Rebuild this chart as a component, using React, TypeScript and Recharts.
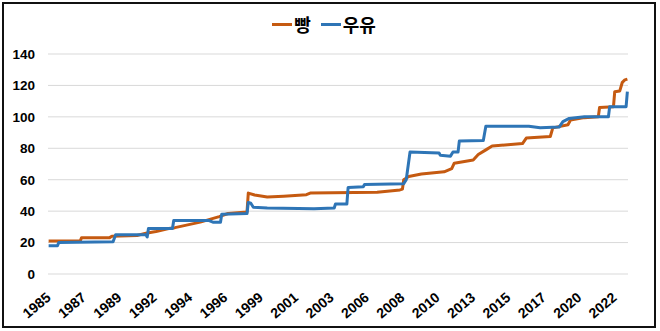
import { LineChart, Line, XAxis, YAxis, CartesianGrid } from "recharts";

// months counted from Jan 1985, [month, index]
const breadPoints: [number, number][] = [
  [0, 21], [25, 21], [26, 23], [48, 23], [50, 24], [70, 24.5], [77, 26], [85, 27],
  [95, 29], [100, 29.5], [120, 33], [135, 36.5], [142, 38.5], [157, 39.5],
  [158, 51.5], [163, 50.3], [173, 49], [186, 49.5], [204, 50.5], [207, 51.5],
  [260, 52], [278, 53.5], [280, 54], [281, 60], [285, 62], [295, 63.6], [305, 64.5],
  [313, 65], [319, 67], [321, 70.5], [336, 72.5], [340, 76], [346, 79], [351, 81.5],
  [375, 83], [378, 86.5], [397, 87.5], [399, 93], [411, 95], [413, 98], [424, 99.5],
  [435, 100], [436, 106], [447, 106.5], [448, 116], [452, 116.5], [454, 122],
  [456, 123.5], [458, 124],
];

const milkPoints: [number, number][] = [
  [0, 18], [7, 18], [8, 20], [51, 20.5], [53, 25], [77, 25], [78, 23.6], [79, 29],
  [98, 29], [99, 34], [127, 34], [130, 33], [136, 33], [137, 38], [157, 38.5],
  [158, 45.5], [160, 45], [162, 42.5], [173, 42], [210, 41.5], [226, 42], [227, 44.5],
  [236, 44.5], [237, 55], [249, 55.5], [250, 57], [281, 57.5], [283, 60], [286, 77.6],
  [309, 77], [310, 75.5], [318, 75], [320, 77.6], [324, 77.6], [325, 84.6], [344, 85],
  [346, 94], [380, 94], [389, 93], [404, 93.5], [407, 97], [412, 99], [424, 100],
  [443, 100], [444, 106.5], [457, 106.5], [458, 116],
];

const tickMonths = [0, 28, 56, 84, 112, 140, 168, 196, 224, 252, 280, 308, 336, 364, 392, 420, 448];
const tickLabels = [
  "1985", "1987", "1989", "1992", "1994", "1996", "1999", "2001", "2003",
  "2006", "2008", "2010", "2013", "2015", "2017", "2020", "2022",
];
const yTicks = [0, 20, 40, 60, 80, 100, 120, 140];

const series = [
  { name: "빵", color: "#C55A11", points: breadPoints },
  { name: "우유", color: "#2E75B6", points: milkPoints },
];

const FONT = "'Liberation Sans', Arial, 'Noto Sans CJK KR', sans-serif";

function YearTick(props: any) {
  const { x, y, payload } = props;
  const label = tickLabels[tickMonths.indexOf(payload.value)] ?? "";
  return (
    <g transform={`translate(${x + 3},${y + 17})`}>
      <text
        x={0}
        y={0}
        textAnchor="end"
        transform="rotate(-40)"
        fontSize={14}
        fontWeight="bold"
        fill="#000"
        fontFamily={FONT}
      >
        {label}
      </text>
    </g>
  );
}

export default function App() {
  return (
    <div
      style={{
        position: "fixed",
        left: 0,
        top: 0,
        width: 660,
        height: 331,
        background: "#fff",
        fontFamily: FONT,
      }}
    >
      <div
        style={{
          position: "absolute",
          left: 2,
          top: 2,
          width: 654,
          height: 326,
          boxSizing: "border-box",
          border: "2px solid #111",
        }}
      />
      <div
        style={{
          position: "absolute",
          top: 11,
          left: -6,
          width: 660,
          display: "flex",
          justifyContent: "center",
          alignItems: "center",
          gap: 10,
          fontFamily: "'Noto Sans CJK KR', sans-serif",
          fontWeight: "bold",
          fontSize: 18,
          lineHeight: "26px",
        }}
      >
        {series.map((s) => (
          <div key={s.name} style={{ display: "flex", alignItems: "center" }}>
            <span style={{ width: 20, height: 3, background: s.color, marginRight: 2 }} />
            <span>{s.name}</span>
          </div>
        ))}
      </div>
      <LineChart
        width={660}
        height={331}
        margin={{ top: 54, right: 32, bottom: 0, left: 0 }}
      >
        <CartesianGrid vertical={false} stroke="#d9d9d9" strokeWidth={1} />
        <XAxis
          type="number"
          dataKey="m"
          domain={[-0.5, 458.5]}
          ticks={tickMonths}
          interval={0}
          height={57}
          axisLine={false}
          tickLine={false}
          tick={<YearTick />}
        />
        <YAxis
          domain={[0, 140]}
          ticks={yTicks}
          width={48}
          axisLine={false}
          tickLine={false}
          tickSize={0}
          tickMargin={13}
          tick={{ fontSize: 13.5, fontWeight: "bold", fill: "#000", fontFamily: FONT }}
        />
        {series.map((s) => (
          <Line
            key={s.name}
            data={s.points.map(([m, v]) => ({ m, v }))}
            dataKey="v"
            name={s.name}
            type="linear"
            stroke={s.color}
            strokeWidth={3}
            dot={false}
            strokeLinejoin="round"
            isAnimationActive={false}
          />
        ))}
      </LineChart>
    </div>
  );
}
